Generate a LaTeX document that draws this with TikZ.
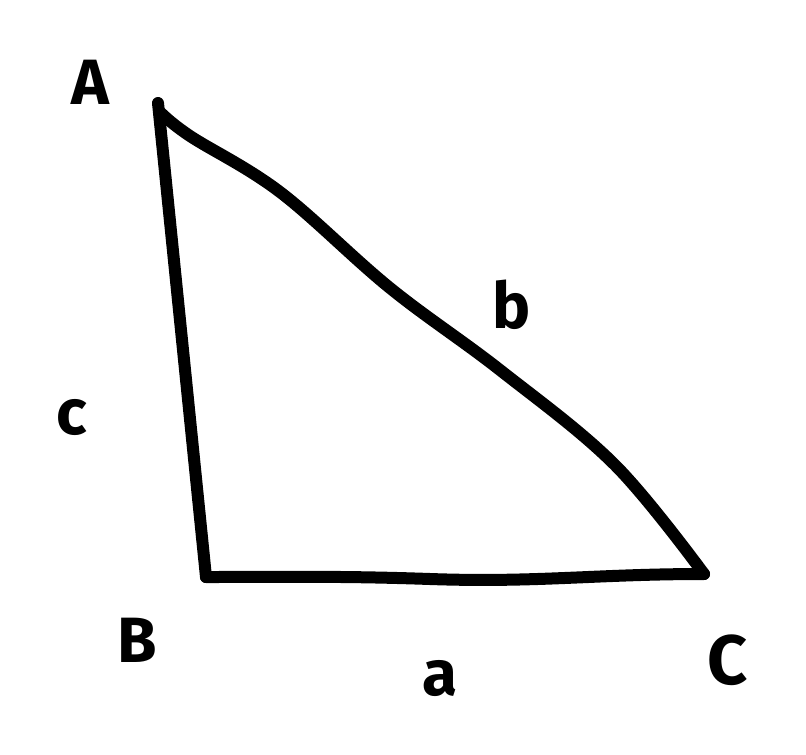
\documentclass[tikz,border=0pt]{standalone}
\usepackage{fontspec}
\setmainfont{Fira Sans}
\tikzset{
  edge/.style={line width=12pt, line cap=round, line join=round, black},
  lbl/.style={font=\fontsize{64}{64}\selectfont\bfseries, text=black, inner sep=0pt}
}
\begin{document}
\begin{tikzpicture}[x=1pt,y=-1pt]
\useasboundingbox (0,0) rectangle (806,755);
\coordinate (A) at (158,103);
\coordinate (B) at (206,577);
\coordinate (C) at (704,574);
\coordinate (m1) at (430,579);
\draw[edge] (A) -- (B);
\draw[edge] (B) to[out=0,in=178] (m1) to[out=-2,in=180] (C);
\draw[edge] plot[smooth, tension=0.6] coordinates {(160,112) (190,136) (280,192) (390,288) (500,370) (615,465) (704,574)};
\node[lbl] (lA) at (90,82) {A};
\node[lbl] (lc) at (72,418) {c};
\node[lbl] (lb) at (512,305) {b};
\node[lbl] (lB) at (137,640) {B};
\node[lbl] (la) at (440,678) {a};
\node[lbl,font=\fontsize{70}{70}\selectfont\bfseries] (lC) at (728,660) {C};
\end{tikzpicture}
\end{document}
